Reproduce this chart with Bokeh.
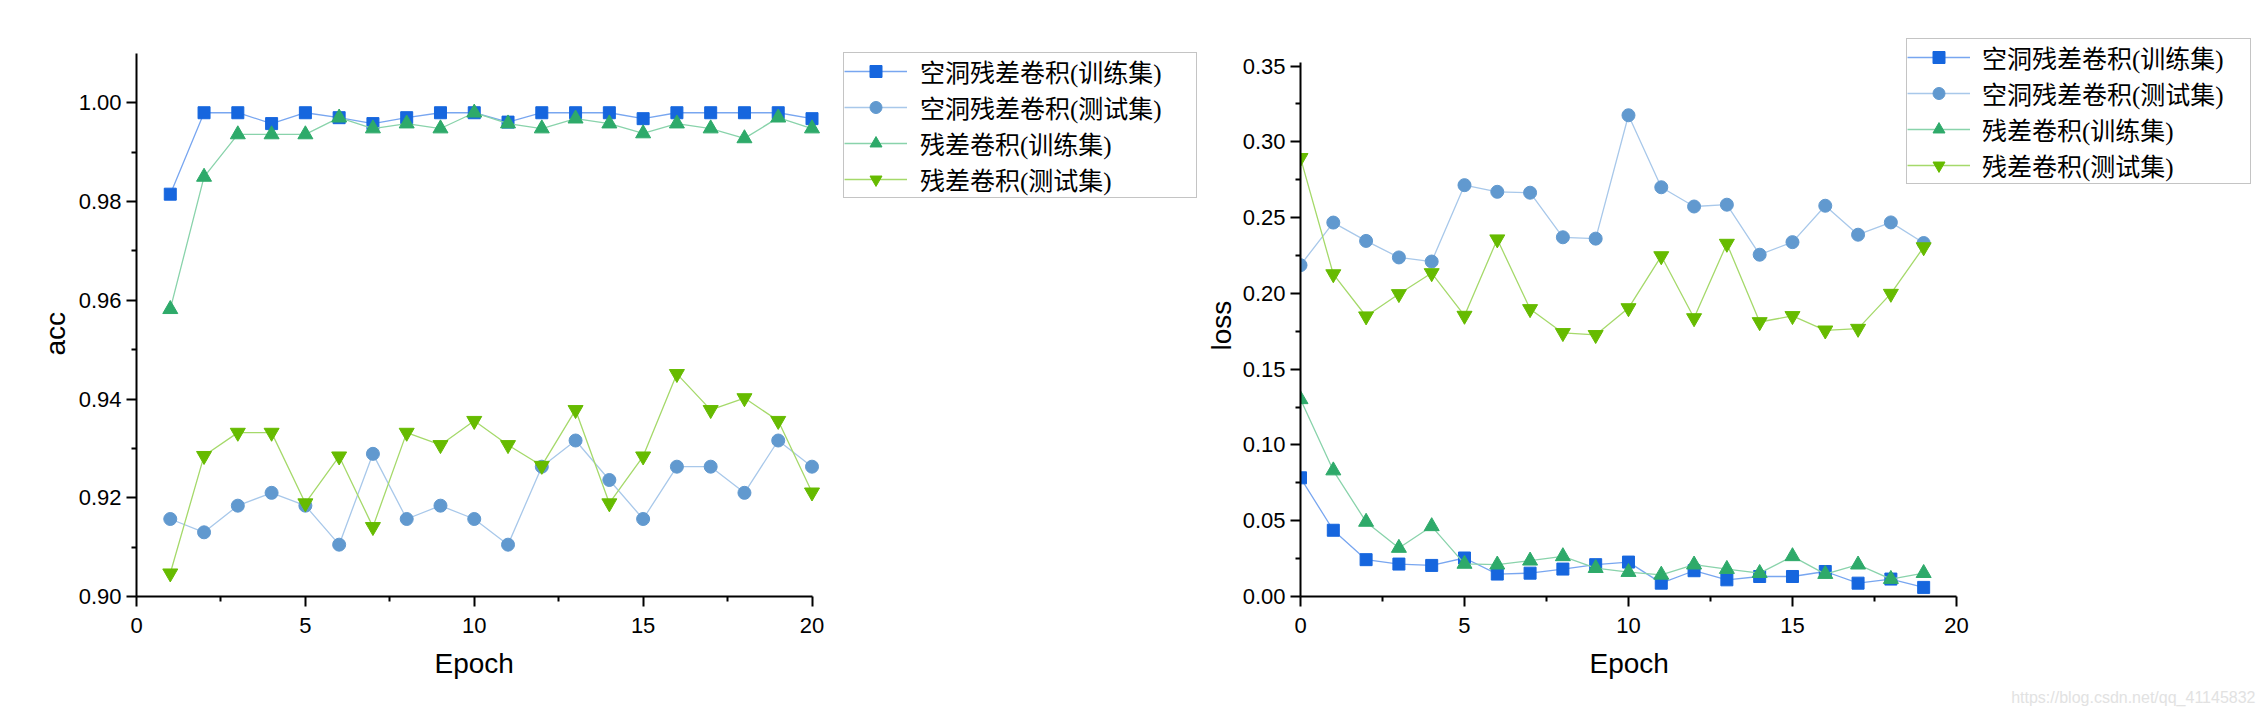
from bokeh.plotting import figure
from bokeh.layouts import row
from bokeh.models import (Legend, LegendItem, FixedTicker, PrintfTickFormatter,
                          Range1d, Title)
from bokeh.embed import file_html
from bokeh.resources import INLINE

# ---- data -------------------------------------------------------------
acc_epochs = list(range(1, 21))
loss_epochs = list(range(0, 20))

series_names = ["空洞残差卷积(训练集)", "空洞残差卷积(测试集)",
                "残差卷积(训练集)", "残差卷积(测试集)"]

acc_dilated_train = [0.9815, 0.9980, 0.9980, 0.9958, 0.9980, 0.9970, 0.9958, 0.9970, 0.9980, 0.9980,
                     0.9961, 0.9980, 0.9980, 0.9980, 0.9968, 0.9980, 0.9980, 0.9980, 0.9980, 0.9968]
acc_dilated_test = [0.9157, 0.9130, 0.9184, 0.9210, 0.9184, 0.9105, 0.9289, 0.9157, 0.9184, 0.9157,
                    0.9105, 0.9263, 0.9316, 0.9236, 0.9157, 0.9263, 0.9263, 0.9210, 0.9316, 0.9263]
acc_res_train = [0.9582, 0.9850, 0.9936, 0.9936, 0.9936, 0.9970, 0.9948, 0.9958, 0.9948, 0.9980,
                 0.9958, 0.9948, 0.9968, 0.9958, 0.9938, 0.9958, 0.9948, 0.9928, 0.9970, 0.9948]
acc_res_test = [0.9047, 0.9285, 0.9332, 0.9332, 0.9189, 0.9284, 0.9141, 0.9332, 0.9307, 0.9356,
                0.9307, 0.9265, 0.9378, 0.9189, 0.9284, 0.9451, 0.9378, 0.9402, 0.9356, 0.9211]

loss_dilated_train = [0.0783, 0.0437, 0.0243, 0.0214, 0.0205, 0.0254, 0.0148, 0.0154, 0.0181, 0.0210,
                      0.0227, 0.0088, 0.0170, 0.0110, 0.0132, 0.0132, 0.0165, 0.0088, 0.0115, 0.0060]
loss_dilated_test = [0.2186, 0.2467, 0.2346, 0.2237, 0.2210, 0.2714, 0.2670, 0.2664, 0.2370, 0.2361,
                     0.3175, 0.2700, 0.2573, 0.2585, 0.2255, 0.2338, 0.2578, 0.2387, 0.2468, 0.2332]
loss_res_train = [0.1301, 0.0831, 0.0492, 0.0320, 0.0463, 0.0215, 0.0210, 0.0236, 0.0265, 0.0187,
                  0.0161, 0.0143, 0.0210, 0.0181, 0.0154, 0.0265, 0.0148, 0.0210, 0.0115, 0.0154]
loss_res_test = [0.2894, 0.2127, 0.1849, 0.1996, 0.2134, 0.1853, 0.2357, 0.1897, 0.1739, 0.1726,
                 0.1903, 0.2246, 0.1837, 0.2328, 0.1811, 0.1851, 0.1756, 0.1767, 0.1998, 0.2305]

x_ticks = [0, 5, 10, 15, 20]
x_minor = [2.5, 7.5, 12.5, 17.5]
acc_ticks = [0.90, 0.92, 0.94, 0.96, 0.98, 1.00]
acc_minor = [0.91, 0.93, 0.95, 0.97, 0.99]
loss_ticks = [0.00, 0.05, 0.10, 0.15, 0.20, 0.25, 0.30, 0.35]
loss_minor = [0.025, 0.075, 0.125, 0.175, 0.225, 0.275, 0.325]

# ---- styles -----------------------------------------------------------
# (marker, marker colour, line colour, marker size)
styles = [
    ("square", "#1666de", "#78a6f0", 12),
    ("circle", "#6199cf", "#a8c8ea", 13),
    ("triangle", "#2eaa6a", "#89d3ab", 15),
    ("inverted_triangle", "#66bb00", "#a5d96a", 15),
]

LATIN = "Liberation Sans"
LEGEND_FONT = "'Liberation Serif', 'Noto Sans CJK SC'"

TOP, BOTTOM = 10, 115          # shared outer borders of both panels
FRAME_H = 711 - TOP - BOTTOM


def style_axes(p, yticks, yminor, xbounds, ybounds):
    p.xaxis.ticker = FixedTicker(ticks=x_ticks, minor_ticks=x_minor)
    p.yaxis.ticker = FixedTicker(ticks=yticks, minor_ticks=yminor)
    p.yaxis.formatter = PrintfTickFormatter(format="%.2f")
    p.xaxis.bounds = xbounds
    p.yaxis.bounds = ybounds
    for ax in (p.xaxis, p.yaxis):
        ax.axis_line_width = 2
        ax.axis_line_color = "black"
        ax.major_tick_line_width = 2
        ax.minor_tick_line_width = 2
        ax.major_tick_out = 10
        ax.major_tick_in = 0
        ax.minor_tick_out = 5
        ax.minor_tick_in = 0
        ax.major_label_text_font = LATIN
        ax.major_label_text_font_size = "22px"
        ax.major_label_text_color = "black"
    p.xaxis.major_label_standoff = 11
    p.yaxis.major_label_standoff = 5
    p.grid.visible = False
    p.outline_line_color = None


def axis_titles(p, xlabel, x_offset, ylabel, y_offset, y_standoff):
    # Axis titles are centred on the bounded axes, not on the wider frame.
    xt = Title(text=xlabel, align="left", offset=x_offset, standoff=20,
               text_font=LATIN, text_font_size="28px", text_font_style="normal",
               text_color="black")
    p.add_layout(xt, "below")
    yt = Title(text=ylabel, align="left", offset=y_offset, standoff=y_standoff,
               text_font=LATIN, text_font_size="28px", text_font_style="normal",
               text_color="black")
    p.add_layout(yt, "left")


def draw_series(p, xs, ys_list):
    items = []
    for name, ys, (marker, mcol, lcol, size) in zip(series_names, ys_list, styles):
        ln = p.line(xs, ys, line_color=lcol, line_width=1.3)
        sc = p.scatter(xs, ys, marker=marker, size=size, fill_color=mcol,
                       line_color=mcol, line_width=1)
        items.append(LegendItem(label=name, renderers=[ln, sc]))
    return items


def make_legend(items, loc, standoff, label_w, spacing):
    lg = Legend(items=items, location=loc)
    lg.label_text_font = LEGEND_FONT
    lg.label_text_font_size = "25px"
    lg.label_text_color = "black"
    lg.glyph_width = 63
    lg.glyph_height = 30
    lg.label_height = 30
    lg.label_width = label_w
    lg.label_standoff = standoff
    lg.spacing = spacing
    lg.padding = 0
    lg.margin = 0
    lg.border_line_color = "#8a8a8a"
    lg.border_line_width = 1.5
    lg.background_fill_color = "white"
    lg.background_fill_alpha = 1.0
    return lg


# ---- accuracy ---------------------------------------------------------
# The plotting frame runs to the right edge of the panel so that the legend
# can sit beside the axes; the axes themselves are bounded to the data span.
W1, L1 = 1200, 136
acc_axis_px = 675.5                     # length of the 0..20 epoch axis
acc_x_end = 20 * (W1 - L1) / acc_axis_px
acc_y_px = 543.0                        # length of the 0.90..1.01 axis
acc_y_end = 0.90 + 0.11 * FRAME_H / acc_y_px

p1 = figure(width=W1, height=711, output_backend="svg", toolbar_location=None,
            x_range=Range1d(0, acc_x_end), y_range=Range1d(0.90, acc_y_end),
            min_border_left=L1, min_border_right=0,
            min_border_top=TOP, min_border_bottom=BOTTOM, title_location=None)
style_axes(p1, acc_ticks, acc_minor, (0, 20), (0.90, 1.01))
axis_titles(p1, "Epoch", 298, "acc", 241, 10)
items1 = draw_series(p1, acc_epochs,
                     [acc_dilated_train, acc_dilated_test, acc_res_train, acc_res_test])
p1.add_layout(make_legend(items1, (707, 398), 13, 276, -1))

# ---- loss -------------------------------------------------------------
W2, L2 = 1064, 97
loss_axis_px = 658.0
loss_x_end = 20 * (W2 - L2) / loss_axis_px
loss_y_px = 530.5                       # length of the 0..0.35 axis
loss_y_end = 0.35 * FRAME_H / loss_y_px

p2 = figure(width=W2, height=711, output_backend="svg", toolbar_location=None,
            x_range=Range1d(0, loss_x_end), y_range=Range1d(0.0, loss_y_end),
            min_border_left=L2, min_border_right=0,
            min_border_top=TOP, min_border_bottom=BOTTOM, title_location=None)
style_axes(p2, loss_ticks, loss_minor, (0, 20), (0.0, 0.352))
axis_titles(p2, "Epoch", 289, "loss", 246, 6)
items2 = draw_series(p2, loss_epochs,
                     [loss_dilated_train, loss_dilated_test, loss_res_train, loss_res_test])
p2.add_layout(make_legend(items2, (606, 412), 12, 268, -2))

p2.add_layout(Title(text="https://blog.csdn.net/qq_41145832", align="right",
                    offset=9, standoff=-4, text_font=LATIN, text_font_size="16px",
                    text_font_style="normal", text_color="#e2e2e2"), "below")

layout = row(p1, p2)
layout.spacing = 0
open("out.html", "w").write(file_html(layout, INLINE))
